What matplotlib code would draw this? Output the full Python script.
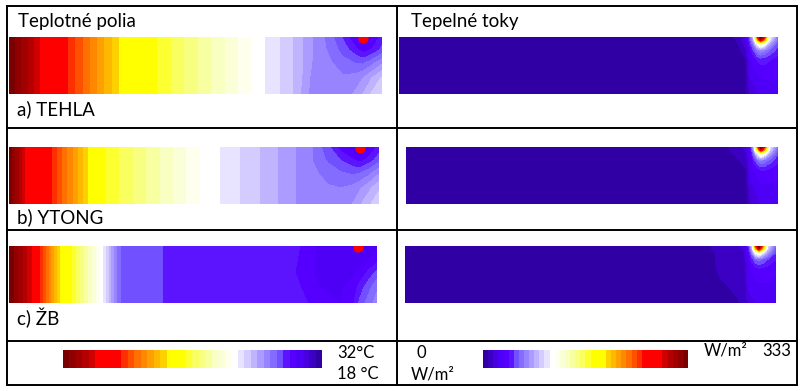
import numpy as np
import matplotlib.pyplot as plt
from matplotlib.colors import ListedColormap

plt.rcParams['font.family'] = ['Lato', 'DejaVu Sans']

W, H = 803, 391

# discrete palette, cold -> hot (40 levels)
level_colors = ['#3000a4', '#3c00c4', '#4800e0', '#4e00f6', '#5500ff', '#5c14ff',
                '#7050ff', '#846cff', '#9884ff', '#ac9cff', '#c0b4ff', '#d4ccff',
                '#e8e4ff', '#ffffff', '#ffffee', '#fbffd8', '#f8ffc0', '#f8ffa0',
                '#f8ff80', '#faff60', '#fcff30', '#ffff00', '#ffff00', '#ffff00',
                '#ffd000', '#ffb800', '#ffa000', '#ff8800', '#ff7000', '#ff5000',
                '#ff3000', '#ff0000', '#ff0000', '#ff0000', '#ff0000', '#d00000',
                '#b40000', '#a00000', '#900000', '#780000']
cmap = ListedColormap(level_colors)

t_min, t_max = 18, 32      # degC
q_min, q_max = 0, 333      # W/m2

# position along the wall (% of length) and depth (% of height, 0 = top)
rows_t = [0, 23, 46, 72, 100]
temp_x_a = [0, 8.3, 15.8, 29.5, 39.7, 65.1, 68.6, 72.7, 75.9, 78.8, 81.5, 86.1, 89.5, 92.8, 94.9, 97.3, 100]
temp_a = [
    [32.0, 30.25, 28.85, 26.4, 25.35, 22.9, 22.55, 22.2, 21.85, 21.5, 21.15, 20.6, 20.05, 19.4, 18.6, 19.3, 19.9],
    [32.0, 30.25, 28.85, 26.4, 25.35, 22.9, 22.55, 22.2, 21.85, 21.5, 21.15, 20.7, 20.3, 19.9, 19.6, 19.8, 20.2],
    [32.0, 30.25, 28.85, 26.4, 25.35, 22.9, 22.55, 22.2, 21.85, 21.5, 21.1, 20.85, 20.6, 20.45, 20.4, 20.7, 21.1],
    [32.0, 30.25, 28.85, 26.4, 25.35, 22.9, 22.55, 22.2, 21.85, 21.45, 21.0, 20.9, 20.85, 20.95, 21.15, 21.5, 21.9],
    [32.0, 30.25, 28.85, 26.4, 25.35, 22.9, 22.55, 22.2, 21.85, 21.4, 20.95, 20.9, 20.95, 21.2, 21.5, 21.9, 22.2],
]
temp_x_b = [0, 4.3, 11.6, 21.4, 26.2, 51.6, 57.0, 62.4, 67.8, 72.7, 77.3, 81.9, 86.1, 89.5, 92.8, 94.9, 97.3, 100]
temp_b = [
    [32.0, 30.25, 28.85, 26.4, 25.35, 22.9, 22.55, 22.2, 21.85, 21.5, 21.15, 20.8, 20.2, 19.6, 19.1, 18.6, 19.3, 19.9],
    [32.0, 30.25, 28.85, 26.4, 25.35, 22.9, 22.55, 22.2, 21.85, 21.5, 21.15, 20.8, 20.4, 20.1, 19.8, 19.6, 19.9, 20.3],
    [32.0, 30.25, 28.85, 26.4, 25.35, 22.9, 22.55, 22.2, 21.85, 21.5, 21.15, 20.9, 20.65, 20.5, 20.4, 20.45, 20.7, 21.1],
    [32.0, 30.25, 28.85, 26.4, 25.35, 22.9, 22.55, 22.2, 21.85, 21.5, 21.15, 20.95, 20.85, 20.8, 20.9, 21.1, 21.4, 21.8],
    [32.0, 30.25, 28.85, 26.4, 25.35, 22.9, 22.55, 22.2, 21.85, 21.5, 21.15, 20.95, 20.9, 20.95, 21.15, 21.45, 21.8, 22.1],
]
temp_x_c = [0, 6.25, 8.4, 13.9, 17.1, 24.7, 25.5, 30.2, 41.6, 65.5, 77.7, 84.5, 89.9, 93.5, 95.4, 97.6, 100]
temp_c = [
    [32.0, 30.25, 28.85, 26.4, 25.35, 22.9, 22.55, 20.45, 20.1, 19.9, 19.85, 19.3, 19.2, 19.0, 18.6, 19.0, 19.3],
    [32.0, 30.25, 28.85, 26.4, 25.35, 22.9, 22.55, 20.45, 20.1, 19.9, 19.8, 19.3, 19.25, 19.2, 19.2, 19.4, 19.6],
    [32.0, 30.25, 28.85, 26.4, 25.35, 22.9, 22.55, 20.45, 20.1, 19.9, 19.75, 19.3, 19.3, 19.35, 19.5, 19.8, 20.2],
    [32.0, 30.25, 28.85, 26.4, 25.35, 22.9, 22.55, 20.45, 20.1, 19.9, 19.85, 19.4, 19.35, 19.5, 19.9, 20.3, 20.7],
    [32.0, 30.25, 28.85, 26.4, 25.35, 22.9, 22.55, 20.45, 20.1, 19.9, 19.9, 19.6, 19.4, 19.7, 20.2, 20.6, 21.0],
]
# heat source location (% along, % depth)
source_x = [94.9, 94.9, 94.8]
source_y = [2, 2, 2]

rows_q = [0, 5, 12, 23, 40, 65, 100]
flux_x = [0, 79, 85, 89.5, 91.5, 92.6, 93.5, 94.5, 95.4, 96.4, 97.8, 100]
flux_a = [
    [4, 4, 4, 10, 30, 55, 90, 240, 333, 270, 110, 60],
    [4, 4, 4, 9, 25, 50, 80, 200, 300, 220, 100, 58],
    [4, 4, 4, 8, 20, 45, 65, 110, 140, 120, 80, 52],
    [4, 4, 4, 6, 14, 35, 50, 65, 72, 68, 58, 46],
    [4, 4, 4, 5, 8, 30, 36, 42, 45, 45, 42, 38],
    [4, 4, 4, 4, 6, 26, 28, 32, 34, 35, 35, 34],
    [4, 4, 4, 4, 5, 18, 20, 24, 27, 29, 30, 30],
]
flux_b = [
    [4, 4, 6, 12, 20, 40, 85, 230, 333, 260, 105, 58],
    [4, 4, 6, 11, 18, 36, 75, 190, 290, 210, 95, 55],
    [4, 4, 5, 10, 16, 33, 60, 105, 135, 115, 78, 50],
    [4, 4, 5, 8, 12, 30, 45, 60, 68, 64, 55, 44],
    [4, 4, 4, 6, 8, 28, 33, 38, 42, 42, 40, 36],
    [4, 4, 4, 5, 6, 24, 26, 30, 32, 33, 33, 32],
    [4, 4, 4, 4, 5, 16, 18, 22, 25, 27, 28, 28],
]
flux_c = [
    [4, 6, 10, 14, 20, 45, 90, 250, 333, 240, 100, 55],
    [4, 6, 10, 13, 18, 40, 80, 200, 290, 200, 90, 52],
    [4, 6, 9, 12, 16, 36, 62, 110, 130, 105, 75, 48],
    [4, 6, 9, 11, 14, 33, 45, 58, 62, 58, 50, 42],
    [4, 5, 9, 10, 12, 30, 34, 38, 40, 40, 38, 35],
    [4, 5, 8, 9, 10, 28, 30, 32, 33, 33, 33, 32],
    [4, 4, 6, 8, 9, 20, 22, 25, 27, 28, 29, 29],
]

labels = ['a) TEHLA', 'b) YTONG', 'c) ŽB']

t_levels = np.linspace(t_min, t_max, len(level_colors) + 1)
q_levels = np.linspace(q_min, q_max, len(level_colors) + 1)

fig = plt.figure(figsize=(W / 100, H / 100), dpi=100)
bg = fig.add_axes([0, 0, 1, 1])
bg.set_xlim(0, W)
bg.set_ylim(H, 0)
bg.axis('off')


def px_axes(x0, y0, x1, y1):
    a = fig.add_axes([x0 / W, 1 - y1 / H, (x1 - x0) / W, (y1 - y0) / H])
    a.set_xlim(0, 100)
    a.set_ylim(100, 0)
    a.axis('off')
    return a


# table grid
lw = 1.4
for x in [7, 397.5, 797.5]:
    bg.plot([x, x], [6, 385], color='black', lw=lw)
for y in [6, 127.5, 230, 340.5, 385]:
    bg.plot([7, 797.5], [y, y], color='black', lw=lw)

# temperature fields
t_boxes = [(9, 37, 382, 94), (9, 147, 379, 204), (9, 246, 377, 303)]
t_data = [(temp_x_a, temp_a), (temp_x_b, temp_b), (temp_x_c, temp_c)]
cs_t = None
for i, (box, (xs, zs)) in enumerate(zip(t_boxes, t_data)):
    ax = px_axes(*box)
    cs_t = ax.contourf(xs, rows_t, np.array(zs), levels=t_levels, cmap=cmap)
    ax.scatter([source_x[i]], [source_y[i]], s=55, color='#ff0000', lw=0, zorder=3)

# heat flux fields
q_boxes = [(399, 37, 778, 94), (406, 147, 778, 204), (405, 246, 776, 303)]
cs_q = None
for box, zs in zip(q_boxes, [flux_a, flux_b, flux_c]):
    ax = px_axes(*box)
    cs_q = ax.contourf(flux_x, rows_q, np.array(zs), levels=q_levels, cmap=cmap)

# colour bars
cax = fig.add_axes([63 / W, 1 - 368 / H, (322 - 63) / W, 18 / H])
cb = fig.colorbar(cs_t, cax=cax, orientation='horizontal')
cb.set_ticks([])
cb.outline.set_visible(False)
cax.invert_xaxis()

cax2 = fig.add_axes([483 / W, 1 - 368 / H, (688 - 483) / W, 18 / H])
cb2 = fig.colorbar(cs_q, cax=cax2, orientation='horizontal')
cb2.set_ticks([])
cb2.outline.set_visible(False)

# texts
fs = 13.5
bg.text(18, 27, 'Teplotné polia', fontsize=fs, va='baseline')
bg.text(411, 27, 'Tepelné toky', fontsize=fs, va='baseline')
for lab, yb in zip(labels, [115, 223, 325]):
    bg.text(17, yb, lab, fontsize=fs, va='baseline')

fs2 = 12
bg.text(337, 357.5, '32°C', fontsize=fs2, va='baseline')
bg.text(337, 379, '18 °C', fontsize=fs2, va='baseline')
bg.text(417, 357.5, '0', fontsize=fs2, va='baseline')
bg.text(411, 379, 'W/m²', fontsize=fs2, va='baseline')
bg.text(704, 356, 'W/m²', fontsize=fs2, va='baseline')
bg.text(762, 356, '333', fontsize=fs2, va='baseline')

fig.savefig('out.png', dpi=100)
